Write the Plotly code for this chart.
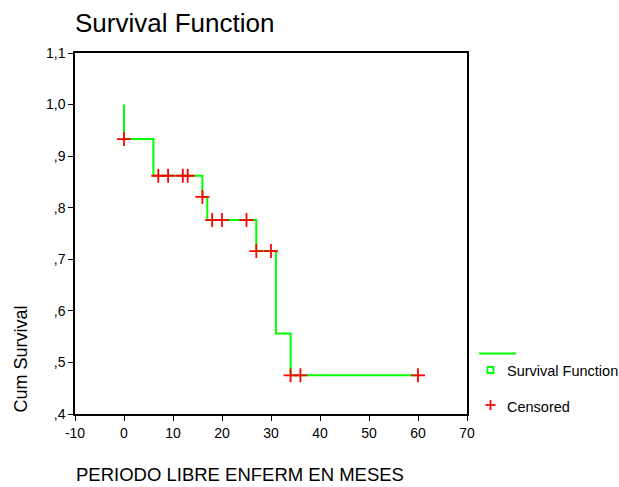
import plotly.graph_objects as go

# Kaplan-Meier step function (time in months, cumulative survival)
step_times = [0, 0, 6, 16, 17, 27, 31, 34, 60]
step_surv = [1.0, 0.933, 0.862, 0.821, 0.776, 0.716, 0.556, 0.475, 0.475]

# Censored observations
cens_times = [0, 7, 9, 12, 13, 16, 18, 20, 25, 27, 30, 34, 36, 60]
cens_surv = [0.933, 0.862, 0.862, 0.862, 0.862, 0.821, 0.776, 0.776, 0.776,
             0.716, 0.716, 0.475, 0.475, 0.475]

x_ticks = [-10, 0, 10, 20, 30, 40, 50, 60, 70]
x_tick_text = ["-10", "0", "10", "20", "30", "40", "50", "60", "70"]
y_ticks = [0.4, 0.5, 0.6, 0.7, 0.8, 0.9, 1.0, 1.1]
y_tick_text = [",4", ",5", ",6", ",7", ",8", ",9", "1,0", "1,1"]

GREEN = "#00ff00"
RED = "#ff0000"
FONT = "Liberation Sans, Arial, sans-serif"

fig = go.Figure()
fig.add_trace(go.Scatter(x=step_times, y=step_surv, mode="lines",
                         line=dict(color=GREEN, width=2, shape="hv"),
                         showlegend=False, hoverinfo="skip"))
fig.add_trace(go.Scatter(x=cens_times, y=cens_surv, mode="markers",
                         marker=dict(symbol="cross-thin", size=10,
                                     line=dict(color=RED, width=1.8)),
                         showlegend=False, hoverinfo="skip"))

L, T, W, H = 75, 53, 392, 361
def px_x(p):
    return (p - L) / W
def px_y(p):
    return (T + H - p) / H

fig.update_layout(
    width=619, height=487,
    margin=dict(l=L, r=619 - L - W, t=T, b=487 - T - H),
    plot_bgcolor="white", paper_bgcolor="white",
    font=dict(family=FONT, color="black", size=14),
    showlegend=False,
    xaxis=dict(range=[-10, 70], tickvals=x_ticks, ticktext=x_tick_text,
               ticks="outside", ticklen=5,
               tickcolor="black", showline=True, linecolor="black", linewidth=1.5,
               mirror=True, showgrid=False, zeroline=False,
               tickfont=dict(size=14, family=FONT)),
    yaxis=dict(range=[0.4, 1.1], tickvals=y_ticks, ticktext=y_tick_text,
               ticks="outside", ticklen=5, tickcolor="black", showline=True,
               linecolor="black", linewidth=1.5, mirror=True, showgrid=False,
               zeroline=False, tickfont=dict(size=14, family=FONT)),
)

annotations = [
    dict(text="Survival Function", x=px_x(73), y=px_y(22.5), xref="paper", yref="paper",
         xanchor="left", yanchor="middle", showarrow=False,
         font=dict(size=26, family=FONT)),
    dict(text="Cum Survival", x=px_x(20.5), y=px_y(359), xref="paper", yref="paper",
         xanchor="center", yanchor="middle", textangle=-90, showarrow=False,
         font=dict(size=18, family=FONT)),
    dict(text="PERIODO LIBRE ENFERM EN MESES", x=px_x(74), y=px_y(474),
         xref="paper", yref="paper", xanchor="left", yanchor="middle",
         showarrow=False, font=dict(size=18.5, family=FONT)),
    dict(text="Survival Function", x=px_x(505), y=px_y(371), xref="paper", yref="paper",
         xanchor="left", yanchor="middle", showarrow=False,
         font=dict(size=14.5, family=FONT)),
    dict(text="Censored", x=px_x(505), y=px_y(407), xref="paper", yref="paper",
         xanchor="left", yanchor="middle", showarrow=False,
         font=dict(size=14.5, family=FONT)),
]
fig.update_layout(annotations=annotations)

shapes = [
    dict(type="line", xref="paper", yref="paper", x0=px_x(479), x1=px_x(516),
         y0=px_y(353.5), y1=px_y(353.5), line=dict(color=GREEN, width=2)),
    dict(type="rect", xref="paper", yref="paper", x0=px_x(487.5), x1=px_x(493.5),
         y0=px_y(367), y1=px_y(373), line=dict(color=GREEN, width=1.8),
         fillcolor="white"),
    dict(type="line", xref="paper", yref="paper", x0=px_x(485.5), x1=px_x(495.5),
         y0=px_y(405), y1=px_y(405), line=dict(color=RED, width=1.8)),
    dict(type="line", xref="paper", yref="paper", x0=px_x(490.5), x1=px_x(490.5),
         y0=px_y(400), y1=px_y(410), line=dict(color=RED, width=1.8)),
]
fig.update_layout(shapes=shapes)

fig.write_html("out.html", config={"displayModeBar": False},
               post_script="document.body.style.margin='0';document.body.style.padding='0';")
